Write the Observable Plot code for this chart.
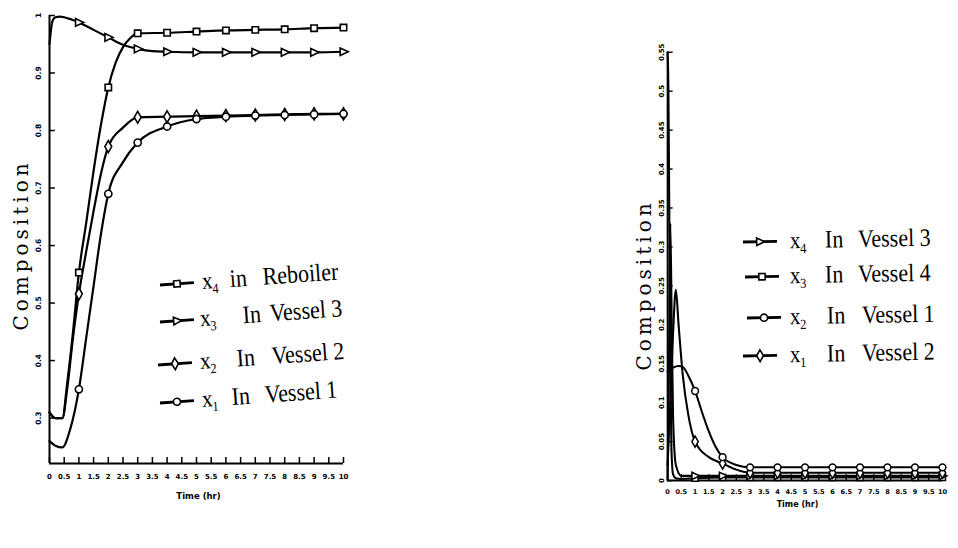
<!DOCTYPE html>
<html><head><meta charset="utf-8">
<script src="https://cdn.jsdelivr.net/npm/d3@7"></script>
<script src="https://cdn.jsdelivr.net/npm/@observablehq/plot@0.6"></script>
<style>
html,body{margin:0;padding:0;background:#fff;width:958px;height:548px;overflow:hidden;}
#wrap{position:relative;width:958px;height:548px;overflow:hidden;}
#left,#right{position:absolute;top:0;}
#left{left:0;}
#right{left:621px;}
#overlay{position:absolute;left:0;top:0;pointer-events:none;}
</style>
</head><body>
<div id="wrap"><div id="left"></div><div id="right"></div><svg id="overlay" width="958" height="548"></svg></div>
<script>
// ---------- Left panel data (time in hr, composition) ----------
const leftNames = ["x4 in Reboiler", "x3 In Vessel 3", "x2 In Vessel 2", "x1 In Vessel 1"];
const tReboiler = [0, 0.2, 0.44, 0.6, 0.8, 1, 1.25, 1.5, 1.75, 2, 2.25, 2.5, 2.75, 3, 4, 5, 6, 7, 8, 9, 10];
const vReboiler = [0.31, 0.30, 0.30, 0.36, 0.45, 0.553, 0.64, 0.73, 0.81, 0.875, 0.918, 0.945, 0.961, 0.969, 0.970, 0.972, 0.974, 0.975, 0.976, 0.978, 0.979];
const tVessel3 = [0, 0.05, 0.1, 0.2, 0.35, 0.5, 0.75, 1, 1.5, 2, 2.5, 3, 3.5, 4, 5, 6, 7, 8, 9, 10];
const vVessel3 = [0.95, 0.975, 0.99, 0.997, 0.998, 0.997, 0.993, 0.988, 0.975, 0.962, 0.949, 0.942, 0.938, 0.937, 0.936, 0.936, 0.936, 0.936, 0.936, 0.937];
const tVessel2 = [0, 0.2, 0.44, 0.6, 0.8, 1, 1.25, 1.5, 1.75, 2, 2.5, 3, 4, 5, 6, 7, 8, 9, 10];
const vVessel2 = [0.31, 0.30, 0.30, 0.35, 0.44, 0.516, 0.59, 0.66, 0.725, 0.772, 0.805, 0.823, 0.824, 0.825, 0.826, 0.827, 0.828, 0.829, 0.829];
const tVessel1 = [0, 0.2, 0.44, 0.7, 1, 1.25, 1.5, 1.75, 2, 2.5, 3, 4, 5, 6, 7, 8, 9, 10];
const vVessel1 = [0.26, 0.252, 0.249, 0.28, 0.35, 0.44, 0.53, 0.62, 0.69, 0.745, 0.779, 0.807, 0.820, 0.824, 0.826, 0.827, 0.828, 0.829];
const leftXTicks = d3.range(0, 10.01, 0.5);
const leftYTicks = [0.3, 0.4, 0.5, 0.6, 0.7, 0.8, 0.9, 1.0];
const leftYMin = 0.221, leftYMax = 1.0;

// ---------- Right panel data ----------
const rightNames = ["x4 In Vessel 3", "x3 In Vessel 4", "x2 In Vessel 1", "x1 In Vessel 2"];
const tR4 = [0, 0.03, 0.06, 0.1, 0.14, 0.2, 0.3, 0.5, 1, 2, 3, 4, 5, 6, 7, 8, 9, 10];
const vR4 = [0.55, 0.50, 0.35, 0.15, 0.04, 0.008, 0.003, 0.002, 0.003, 0.004, 0.004, 0.004, 0.004, 0.004, 0.004, 0.004, 0.004, 0.004];
const tR3 = [0, 0.05, 0.1, 0.15, 0.2, 0.3, 0.5, 1, 2, 3, 4, 5, 6, 7, 8, 9, 10];
const vR3 = [0.0, 0.15, 0.33, 0.2, 0.08, 0.02, 0.006, 0.006, 0.006, 0.006, 0.006, 0.006, 0.006, 0.006, 0.006, 0.006, 0.006];
const tR2 = [0, 0.1, 0.2, 0.3, 0.4, 0.55, 0.75, 1, 1.5, 2, 2.5, 3, 4, 5, 6, 7, 8, 9, 10];
const vR2 = [0.02, 0.10, 0.19, 0.245, 0.20, 0.136, 0.085, 0.05, 0.03, 0.022, 0.014, 0.010, 0.010, 0.010, 0.010, 0.010, 0.010, 0.010, 0.010];
const tR1 = [0, 0.2, 0.4, 0.55, 0.75, 1, 1.25, 1.5, 1.75, 2, 2.5, 3, 4, 5, 6, 7, 8, 9, 10];
const vR1 = [0.14, 0.145, 0.147, 0.146, 0.135, 0.115, 0.088, 0.063, 0.043, 0.03, 0.02, 0.017, 0.017, 0.017, 0.017, 0.017, 0.017, 0.017, 0.017];
const rightXTicks = d3.range(0, 10.01, 0.5);
const rightYTicks = d3.range(0, 0.551, 0.05);
const rightYMin = 0, rightYMax = 0.55;

// ---------- helpers ----------
const rows = (name, t, v) => t.map((d, i) => ({series: name, t: d, v: v[i]}));
const triRight = {draw(ctx, size) { const s = Math.sqrt(size) * 0.75; ctx.moveTo(s, 0); ctx.lineTo(-s * 0.7, -s * 0.8); ctx.lineTo(-s * 0.7, s * 0.8); ctx.closePath(); }};
const symRange = [d3.symbolSquare, triRight, d3.symbolDiamond, d3.symbolCircle];
const fmt = d3.format("~g");

function panel(data, names, xTicks, yTicks, yMin, yMax, opts) {
  const marks = data.filter(d => d.t >= 1 && Number.isInteger(d.t));
  return Plot.plot({
    width: opts.width, height: opts.height,
    marginLeft: opts.ml, marginRight: opts.mr, marginTop: opts.mt, marginBottom: opts.mb,
    style: {background: "transparent", color: "#000", fontFamily: "DejaVu Sans"},
    x: {domain: [0, 10]},
    y: {domain: [yMin, yMax]},
    symbol: {domain: names, range: symRange},
    marks: [
      Plot.axisX({ticks: xTicks, tickSize: 0, tickPadding: opts.xpad, tickFormat: fmt, fontSize: 7, fontWeight: "bold", label: null}),
      Plot.axisY({ticks: yTicks, tickSize: 0, tickPadding: opts.ypad, tickRotate: -90, tickFormat: fmt, fontSize: 7.5, fontWeight: "bold", label: null}),
      Plot.ruleX([0], {y1: yMin, y2: yMax, stroke: "black", strokeWidth: 2}),
      Plot.ruleY([yMin], {x1: 0, x2: 10, stroke: "black", strokeWidth: 2}),
      Plot.ruleY(yTicks, {x1: 0, x2: 0.2, stroke: "black", strokeWidth: 1.5}),
      Plot.ruleX(xTicks, {y1: yMin, y2: yMin + (yMax - yMin) * 0.0135, stroke: "black", strokeWidth: 1.5}),
      Plot.line(data, {x: "t", y: "v", z: "series", curve: "monotone-x", stroke: "black", strokeWidth: 2.2}),
      Plot.dot(marks, {x: "t", y: "v", symbol: "series", r: 3.6, fill: "white", stroke: "black", strokeWidth: 1.6}),
      Plot.text(["Time (hr)"], {frameAnchor: "bottom", dy: opts.tdy, dx: opts.tdx, fontSize: 8.5, fontWeight: "bold"})
    ]
  });
}

const leftData = [
  ...rows(leftNames[0], tReboiler, vReboiler),
  ...rows(leftNames[1], tVessel3, vVessel3),
  ...rows(leftNames[2], tVessel2, vVessel2),
  ...rows(leftNames[3], tVessel1, vVessel1)
];
const rightData = [
  ...rows(rightNames[0], tR4, vR4),
  ...rows(rightNames[1], tR3, vR3),
  ...rows(rightNames[2], tR2, vR2),
  ...rows(rightNames[3], tR1, vR1)
];

document.getElementById("left").append(panel(leftData, leftNames, leftXTicks, leftYTicks, leftYMin, leftYMax,
  {width: 360, height: 510, ml: 49, mr: 17, mt: 15, mb: 47, xpad: 11, ypad: 9, tdy: 35, tdx: 2}));
document.getElementById("right").append(panel(rightData, rightNames, rightXTicks, rightYTicks, rightYMin, rightYMax,
  {width: 358, height: 548, ml: 49, mr: 17, mt: 55, mb: 38, xpad: 9, ypad: 4, tdy: 28, tdx: -8}));

// ---------- overlay: y titles and legends ----------
const svg = d3.select("#overlay");
const yTitle = (x, y) => svg.append("text").attr("transform", `translate(${x},${y}) rotate(-90)`)
  .attr("text-anchor", "middle").attr("dominant-baseline", "middle")
  .style("font-family", "DejaVu Serif").style("font-size", "20px").style("letter-spacing", "4px")
  .text("Composition");
yTitle(22, 245);
yTitle(645, 285);

const SX = 0.88;
function legendRow(x, y, angle, symIndex, sub, word1, word2, pos) {
  const g = svg.append("g").attr("transform", `translate(${x},${y}) rotate(${angle})`);
  g.append("line").attr("x1", 0).attr("x2", 34).attr("stroke", "black").attr("stroke-width", 2.8);
  g.append("path").attr("transform", "translate(17,0)")
    .attr("d", d3.symbol(symRange[symIndex], 40)()).attr("fill", "white").attr("stroke", "black").attr("stroke-width", 1.6);
  const t = g.append("g").attr("transform", `scale(${SX},1)`).style("font-family", "Liberation Serif").style("fill", "black");
  const k = 1 / SX;
  t.append("text").attr("x", pos[0] * k).attr("y", 7).style("font-size", "24px").text("x");
  t.append("text").attr("x", (pos[0] + 10) * k).attr("y", 12).style("font-size", "14px").text(sub);
  t.append("text").attr("x", pos[1] * k).attr("y", 7).style("font-size", "25px").text(word1);
  t.append("text").attr("x", pos[2] * k).attr("y", 7).style("font-size", "25px").text(word2);
}
legendRow(160, 285, -4, 0, "4", "in", "Reboiler", [42, 70, 103]);
legendRow(160, 322, -4, 1, "3", "In", "Vessel 3", [40, 83, 110]);
legendRow(158, 365, -4, 2, "2", "In", "Vessel 2", [42, 79, 114]);
legendRow(160, 403, -4, 3, "1", "In", "Vessel 1", [42, 72, 105]);

legendRow(743, 242, -1, 1, "4", "In", "Vessel 3", [47, 82, 115]);
legendRow(745, 277, -1, 0, "3", "In", "Vessel 4", [45, 80, 113]);
legendRow(747, 318, -1, 3, "2", "In", "Vessel 1", [43, 80, 115]);
legendRow(743, 356, -1, 2, "1", "In", "Vessel 2", [47, 84, 119]);
</script>
</body></html>
